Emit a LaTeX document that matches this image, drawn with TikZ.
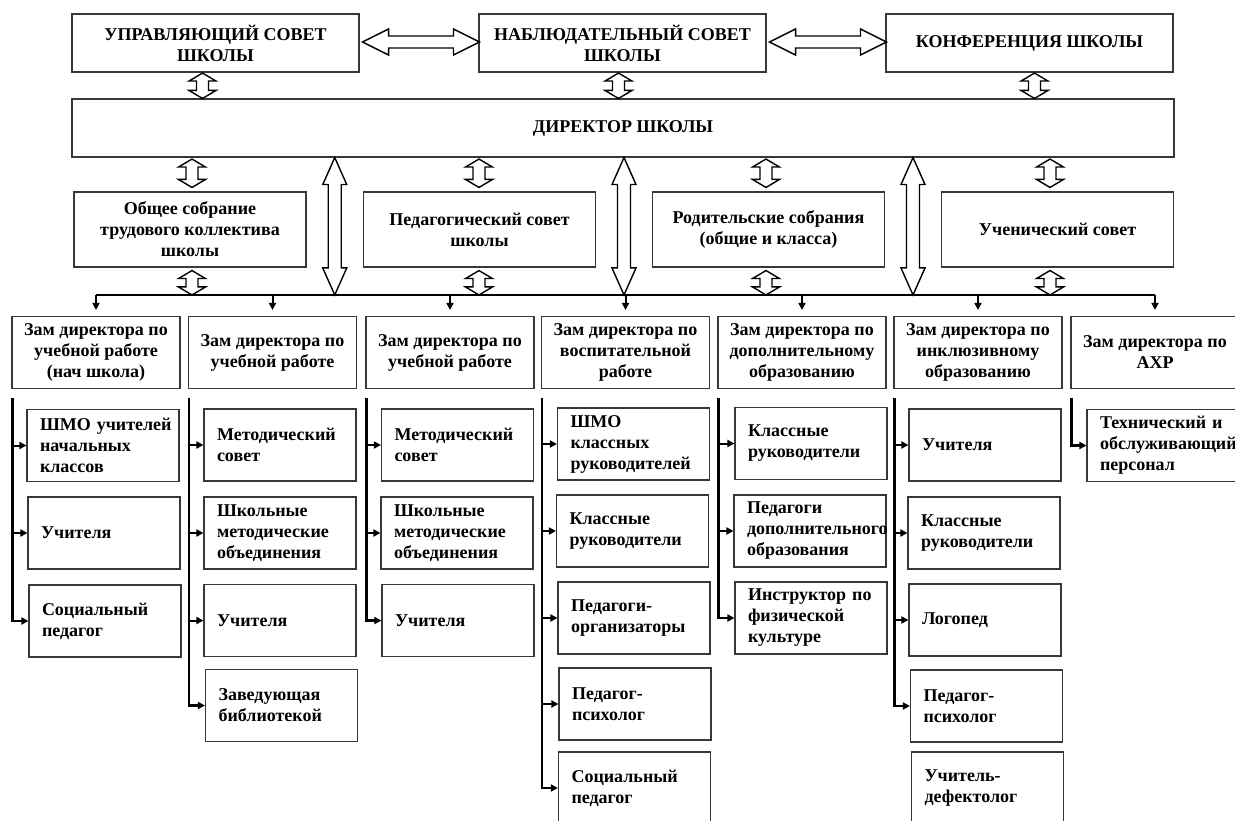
\documentclass[tikz,border=0pt]{standalone}
\usepackage{fontspec}
\setmainfont{Liberation Serif}
\usetikzlibrary{arrows.meta,calc}
\definecolor{boxc}{HTML}{383838}
\newcommand\dfont{\fontsize{18pt}{21pt}\selectfont\bfseries}
\hyphenpenalty=10000
\exhyphenpenalty=10000
\begin{document}
\begin{tikzpicture}[x=1pt,y=-1pt,
  boxbase/.style={draw=boxc, line width=1.1pt, inner sep=0pt, font=\dfont},
  cbox/.style={boxbase, align=center},
  topbox/.style={cbox, minimum width=287pt, minimum height=58pt},
  midbox/.style={cbox, minimum width=232pt, minimum height=75pt},
  depbox/.style={cbox, minimum width=168pt, minimum height=72pt},
  lbox/.style={boxbase, align=left, text width=126pt, inner xsep=13pt, minimum width=152pt, minimum height=72pt},
  dbl/.style n args={3}{fill=white, draw=black, line width=1.4pt, line join=miter,
    to path={
      -- ($(\tikztostart)!#1!(\tikztotarget)!#2!90:(\tikztotarget)$)
      -- ($(\tikztostart)!#1!(\tikztotarget)!#3!90:(\tikztotarget)$)
      -- ($(\tikztotarget)!#1!(\tikztostart)!#3!-90:(\tikztostart)$)
      -- ($(\tikztotarget)!#1!(\tikztostart)!#2!-90:(\tikztostart)$)
      -- (\tikztotarget)
      -- ($(\tikztotarget)!#1!(\tikztostart)!#2!90:(\tikztostart)$)
      -- ($(\tikztotarget)!#1!(\tikztostart)!#3!90:(\tikztostart)$)
      -- ($(\tikztostart)!#1!(\tikztotarget)!#3!-90:(\tikztotarget)$)
      -- ($(\tikztostart)!#1!(\tikztotarget)!#2!-90:(\tikztotarget)$)
      -- cycle}},
  sdbl/.style={dbl={8pt}{13.5pt}{6pt}},
  bdbl/.style={dbl={27pt}{12pt}{6.5pt}},
  hdbl/.style={dbl={26pt}{13pt}{6pt}},
  tip/.style={-{Triangle[length=7pt,width=7pt]}},
  busline/.style={draw=black, line width=2pt},
  trunk/.style={draw=black, line width=2.2pt, tip},
  branch/.style={draw=black, line width=2pt, tip},
  downarr/.style={draw=black, line width=2pt, tip}
]
\useasboundingbox (0,0) rectangle (1235,821);
\fill[white] (0,0) rectangle (1235,821);
\clip (0,0) rectangle (1235,821);

% top row
\node[topbox] (u1) at (215.5,43) {УПРАВЛЯЮЩИЙ СОВЕТ\\ШКОЛЫ};
\node[topbox] (u2) at (622.5,43) {НАБЛЮДАТЕЛЬНЫЙ СОВЕТ\\ШКОЛЫ};
\node[topbox] (u3) at (1029.5,43) {КОНФЕРЕНЦИЯ ШКОЛЫ};
% director
\node[boxbase, minimum width=1102pt, minimum height=58pt] (dir) at (623,128) {ДИРЕКТОР ШКОЛЫ};
% middle row
\node[midbox] (m1) at (190,229.5) {Общее собрание\\трудового коллектива\\школы};
\node[midbox] (m2) at (479.5,229.5) {Педагогический совет\\школы};
\node[midbox] (m3) at (768.5,229.5) {Родительские собрания\\(общие и класса)};
\node[midbox] (m4) at (1057.5,229.5) {Ученический совет};
% deputies
\node[depbox] (d1) at (96,352.5) {Зам директора по\\учебной работе\\(нач школа)};
\node[depbox] (d2) at (272.5,352.5) {Зам директора по\\учебной работе};
\node[depbox] (d3) at (450,352.5) {Зам директора по\\учебной работе};
\node[depbox] (d4) at (625.5,352.5) {Зам директора по\\воспитательной\\работе};
\node[depbox] (d5) at (802,352.5) {Зам директора по\\дополнительному\\образованию};
\node[depbox] (d6) at (978,352.5) {Зам директора по\\инклюзивному\\образованию};
\node[depbox] (d7) at (1155,352.5) {Зам директора по\\АХР};

% column 1
\node[lbox] (c1a) at (103,445.5) {ШМО~учителей\\начальных\\классов};
\node[lbox] (c1b) at (104,533) {Учителя};
\node[lbox] (c1c) at (105,621) {Социальный\\педагог};
% column 2
\node[lbox] (c2a) at (280,445) {Методический\\совет};
\node[lbox] (c2b) at (280,533) {Школьные\\методические\\объединения};
\node[lbox] (c2c) at (280,620.5) {Учителя};
\node[lbox] (c2d) at (281.5,705.5) {Заведующая\\библиотекой};
% column 3
\node[lbox] (c3a) at (457.5,445) {Методический\\совет};
\node[lbox] (c3b) at (457,533) {Школьные\\методические\\объединения};
\node[lbox] (c3c) at (458,620.5) {Учителя};
% column 4
\node[lbox] (c4a) at (633.5,444) {ШМО\\классных\\руководителей};
\node[lbox] (c4b) at (632.5,531) {Классные\\руководители};
\node[lbox] (c4c) at (634,618) {Педагоги-\\организаторы};
\node[lbox] (c4d) at (635,704) {Педагог-\\психолог};
\node[lbox] (c4e) at (634.5,788) {Социальный\\педагог};
% column 5
\node[lbox] (c5a) at (811,443.5) {Классные\\руководители};
\node[lbox] (c5b) at (810,531) {Педагоги\\дополнительного\\образования};
\node[lbox] (c5c) at (811,618) {Инструктор~по\\физической\\культуре};
% column 6
\node[lbox] (c6a) at (985,445) {Учителя};
\node[lbox] (c6b) at (984,533) {Классные\\руководители};
\node[lbox] (c6c) at (985,620) {Логопед};
\node[lbox] (c6d) at (986.5,706) {Педагог-\\психолог};
\node[lbox] (c6e) at (987.5,788) {Учитель-\\дефектолог};
% column 7
\node[lbox] (c7a) at (1163,445.5) {Технический~и\\обслуживающий\\персонал};

% horizontal hollow arrows between top boxes
\coordinate (h1a) at ($(u1.east)+(3,-1)$);
\coordinate (h1b) at ($(u2.west)+(1,-1)$);
\coordinate (h2a) at ($(u2.east)+(3,-1)$);
\coordinate (h2b) at ($(u3.west)+(1,-1)$);
\draw[hdbl] (h1a) to (h1b);
\draw[hdbl] (h2a) to (h2b);

% small arrows top boxes <-> director
\coordinate (a1t) at ($(u1.south)+(-13,0.5)$);
\coordinate (a1b) at (a1t |- dir.north);
\coordinate (a2t) at ($(u2.south)+(-4,0.5)$);
\coordinate (a2b) at (a2t |- dir.north);
\coordinate (a3t) at ($(u3.south)+(5,0.5)$);
\coordinate (a3b) at (a3t |- dir.north);
\draw[sdbl] (a1t) to (a1b);
\draw[sdbl] (a2t) to (a2b);
\draw[sdbl] (a3t) to (a3b);

% bus level
\coordinate (busL) at ($(d1.north)+(0,-21)$);

% small arrows director <-> middle boxes, middle boxes <-> bus
\foreach \m/\dx in {m1/2, m2/-0.5, m3/-2.5, m4/-7.5}{
  \coordinate (\m t) at ($(\m.north)+(\dx,-4)$);
  \coordinate (\m s) at (\m t |- dir.south);
  \coordinate (\m u) at ($(\m.south)+(\dx,3)$);
  \coordinate (\m v) at (\m u |- busL);
}
\draw[sdbl] ($(m1s)+(0,1.5)$) coordinate (m1s1) to (m1t);
\draw[sdbl] ($(m2s)+(0,1.5)$) coordinate (m2s1) to (m2t);
\draw[sdbl] ($(m3s)+(0,1.5)$) coordinate (m3s1) to (m3t);
\draw[sdbl] ($(m4s)+(0,1.5)$) coordinate (m4s1) to (m4t);

% bus line and arrows to deputies
\draw[busline] (d1.north |- busL) -- (d7.north |- busL);
\foreach \d in {d1,d2,d3,d4,d5,d6,d7}{
  \draw[downarr] (\d.north |- busL) -- ([yshift=6pt]\d.north);
}

\draw[sdbl] (m1u) to (m1v);
\draw[sdbl] (m2u) to (m2v);
\draw[sdbl] (m3u) to (m3v);
\draw[sdbl] (m4u) to (m4v);

% big hollow arrows director <-> bus
\coordinate (g1x) at ($(m1.east)!0.5!(m2.west)$);
\coordinate (g2x) at ($(m2.east)!0.5!(m3.west)$);
\coordinate (g3x) at ($(m3.east)!0.5!(m4.west)$);
\foreach \g in {g1,g2,g3}{
  \coordinate (\g t) at (\g x |- dir.south);
  \coordinate (\g b) at (\g x |- busL);
}
\draw[bdbl] (g1t) to (g1b);
\draw[bdbl] (g2t) to (g2b);
\draw[bdbl] (g3t) to (g3b);

% column trunks and branches
\coordinate (t1) at ($(d1.south west)+(1,9)$);
\coordinate (t2) at ($(d2.south west)+(1,9)$);
\coordinate (t3) at ($(d3.south west)+(1,9)$);
\coordinate (t4) at ($(d4.south west)+(1,9)$);
\coordinate (t5) at ($(d5.south west)+(1,9)$);
\coordinate (t6) at ($(d6.south west)+(1,9)$);
\coordinate (t7) at ($(d7.south west)+(1,9)$);

\draw[trunk] (t1) |- (c1c.west);
\draw[branch] (t1 |- c1a.west) -- (c1a.west);
\draw[branch] (t1 |- c1b.west) -- (c1b.west);

\draw[trunk] (t2) |- (c2d.west);
\draw[branch] (t2 |- c2a.west) -- (c2a.west);
\draw[branch] (t2 |- c2b.west) -- (c2b.west);
\draw[branch] (t2 |- c2c.west) -- (c2c.west);

\draw[trunk] (t3) |- (c3c.west);
\draw[branch] (t3 |- c3a.west) -- (c3a.west);
\draw[branch] (t3 |- c3b.west) -- (c3b.west);

\draw[trunk] (t4) |- (c4e.west);
\draw[branch] (t4 |- c4a.west) -- (c4a.west);
\draw[branch] (t4 |- c4b.west) -- (c4b.west);
\draw[branch] (t4 |- c4c.west) -- (c4c.west);
\draw[branch] (t4 |- c4d.west) -- (c4d.west);

\draw[trunk] (t5) |- (c5c.west);
\draw[branch] (t5 |- c5a.west) -- (c5a.west);
\draw[branch] (t5 |- c5b.west) -- (c5b.west);

\draw[trunk] (t6) |- (c6d.west);
\draw[branch] (t6 |- c6a.west) -- (c6a.west);
\draw[branch] (t6 |- c6b.west) -- (c6b.west);
\draw[branch] (t6 |- c6c.west) -- (c6c.west);

\draw[trunk] (t7) |- (c7a.west);
\end{tikzpicture}
\end{document}
